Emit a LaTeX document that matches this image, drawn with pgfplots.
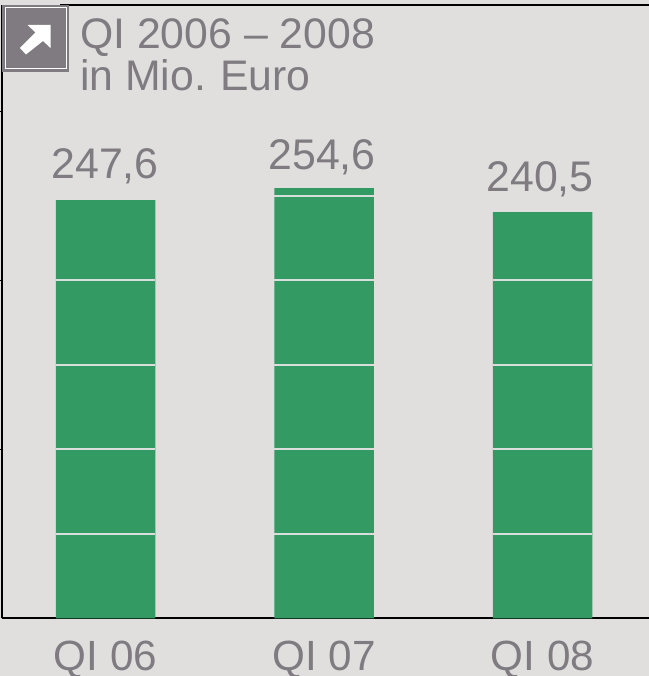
\documentclass[border=0pt]{standalone}
\usepackage{pgfplots}
\pgfplotsset{compat=1.18}
\usepackage{pgfplotstable}
\usepackage{fontspec}
\setmainfont{Liberation Sans}
\definecolor{bgc}{HTML}{E0DFDE}
\definecolor{barc}{HTML}{339A64}
\definecolor{txtc}{HTML}{7F7B80}
\definecolor{linec}{HTML}{D8DEDA}
\pgfplotstableread{
x y dx dy
0 247.6 -0.5 22
1 254.6 -2 18.5
2 240.5 -2.5 21
}\bars
\begin{document}
\begin{tikzpicture}[x=1bp,y=1bp]
\path[use as bounding box,fill=bgc] (0,0) rectangle (649,676);
\begin{axis}[
  at={(2bp,57.5bp)},anchor=south west,
  scale only axis,width=647bp,height=613.5bp,
  xmin=-0.4737,xmax=2.4874,ymin=0,ymax=363,
  axis x line=bottom,axis y line=left,
  axis line style={black,line width=2bp,-},
  ytick={100,200,300},yticklabels={},
  tick align=outside,major tick length=2bp,
  y tick style={black,line width=1.2bp},
  xtick=data,xticklabels={QI 06,QI 07,QI 08},
  x tick style={draw=none},
  xticklabel style={anchor=base,yshift=-50bp,text=txtc,font=\fontsize{42.4}{42.4}\selectfont},
  clip=false,
  unbounded coords=jump,
]
\addplot[ybar,bar width=99.5bp,bar shift=0pt,fill=barc,draw=none,
  visualization depends on={\thisrow{dx}\as\dxv},
  visualization depends on={\thisrow{dy}\as\dyv},
  nodes near coords={\fontsize{43}{43}\selectfont\pgfmathprintnumber[fixed,fixed zerofill,precision=1,use comma,assume math mode=true]{\pgfplotspointmeta}},
  point meta=y,
  nodes near coords style={anchor=base,text=txtc,xshift=\dxv bp,yshift=\dyv bp},
] table[x=x,y=y] {\bars};
\addplot[linec,line width=2bp,no marks] coordinates {
 (-0.2277,50) (0.2277,50) (0,nan)
 (-0.2277,100) (0.2277,100) (0,nan)
 (-0.2277,150) (0.2277,150) (0,nan)
 (-0.2277,200) (0.2277,200) (0,nan)
 (0.7723,50) (1.2277,50) (1,nan)
 (0.7723,100) (1.2277,100) (1,nan)
 (0.7723,150) (1.2277,150) (1,nan)
 (0.7723,200) (1.2277,200) (1,nan)
 (0.7723,250) (1.2277,250) (1,nan)
 (1.7723,50) (2.2277,50) (2,nan)
 (1.7723,100) (2.2277,100) (2,nan)
 (1.7723,150) (2.2277,150) (2,nan)
 (1.7723,200) (2.2277,200) (2,nan)
};
\end{axis}
\begin{scope}[x=1bp,y=-1bp,shift={(0bp,676bp)}]
\draw[black,line width=2.4bp] (60,5) -- (649,5);
\fill[txtc] (2,5) rectangle (69,72);
\draw[white,line width=1.3bp] (5.5,7.5) rectangle (66.5,68.5);
\fill[white] (27.5,25) -- (50.5,25) -- (50.5,48) -- (43,41) -- (26,54.5) -- (20,48) -- (35.5,32.5) -- cycle;
\node[anchor=base west,inner sep=0pt,text=txtc,font=\fontsize{42.9}{42.9}\selectfont] at (80,48.5) {QI 2006 – 2008};
\node[anchor=base west,inner sep=0pt,text=txtc,font=\fontsize{42.9}{42.9}\selectfont] at (80,91) {in Mio.\kern-1.5pt{} Euro};
\end{scope}
\end{tikzpicture}
\end{document}
